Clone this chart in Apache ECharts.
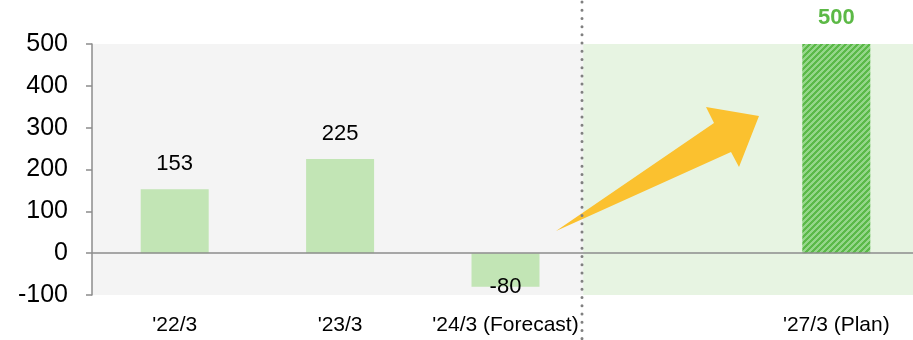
<!DOCTYPE html>
<html>
<head>
<meta charset="utf-8">
<script src="https://cdn.jsdelivr.net/npm/echarts@6/dist/echarts.min.js"></script>
<style>
  html, body { margin: 0; padding: 0; background: #ffffff; overflow: hidden; }
  #chart { width: 919px; height: 340px; }
</style>
</head>
<body>
<div id="chart"></div>
<script>
// Fiscal-year categories (the fourth slot is a spacer before the plan year)
const categories = ["'22/3", "'23/3", "'24/3 (Forecast)", "", "'27/3 (Plan)"];
const values = [153, 225, -80, null, 500];
const planIndex = 4;
const yTicks = { min: -100, max: 500, interval: 100 };

const FONT = '"Liberation Sans", Arial, sans-serif';

// Diagonal stripe tile for the plan bar
function stripeTile() {
  const c = document.createElement('canvas');
  const n = 6;
  c.width = n; c.height = n;
  const ctx = c.getContext('2d');
  for (let x = 0; x < n; x++) {
    for (let y = 0; y < n; y++) {
      ctx.fillStyle = ((x + y) % n) < 3 ? '#5bb948' : '#95d68a';
      ctx.fillRect(x, y, 1, 1);
    }
  }
  return c;
}
const stripes = stripeTile();

const barData = values.map((v, i) => {
  if (v === null) return null;
  if (i === planIndex) {
    return {
      value: v,
      itemStyle: { color: { image: stripes, repeat: 'repeat' } },
      label: { color: '#5cb946', fontWeight: 'bold', distance: 15 }
    };
  }
  if (v < 0) {
    return { value: v, label: { position: 'bottom', distance: -11 } };
  }
  return v;
});

const chart = echarts.init(document.getElementById('chart'), null, { renderer: 'canvas' });

chart.setOption({
  animation: false,
  grid: {
    left: 92, right: 0, top: 44, bottom: 45,
    show: true, backgroundColor: '#f4f4f4', borderWidth: 0
  },
  xAxis: [
    {
      type: 'category',
      data: categories,
      axisLine: { show: false },
      axisTick: { show: false },
      axisLabel: { interval: 0, color: '#000', fontSize: 21, fontFamily: FONT, margin: 20 }
    },
    { type: 'value', min: 0, max: categories.length, show: false }
  ],
  yAxis: {
    type: 'value',
    min: yTicks.min, max: yTicks.max, interval: yTicks.interval,
    axisLine: { show: true, lineStyle: { color: '#8c8c8c', width: 1.5 } },
    axisTick: { show: true, length: 6, lineStyle: { color: '#8c8c8c', width: 1.5 } },
    splitLine: { show: false },
    axisLabel: { color: '#000', fontSize: 25, fontFamily: FONT, margin: 24 }
  },
  series: [
    {
      // shaded plan period
      type: 'line',
      xAxisIndex: 1,
      data: [],
      silent: true,
      markArea: {
        silent: true,
        itemStyle: { color: '#e7f4e2' },
        data: [[{ coord: [2.97, yTicks.min] }, { coord: [categories.length, yTicks.max] }]]
      }
    },
    {
      type: 'bar',
      data: barData,
      barWidth: 68,
      z: 3,
      itemStyle: { color: '#c2e5b5' },
      label: {
        show: true, position: 'top', distance: 14,
        color: '#000', fontSize: 22, fontFamily: FONT
      },
      markLine: {
        silent: true,
        symbol: 'none',
        label: { show: false },
        lineStyle: { color: '#8c8c8c', width: 1.5, type: 'solid' },
        data: [{ yAxis: 0 }]
      }
    }
  ],
  graphic: [
    {
      // growth arrow
      type: 'polygon',
      z: 50,
      shape: {
        points: [[556, 231], [714, 123], [706, 107], [759, 116], [739, 167], [731, 152]]
      },
      style: { fill: '#fbc12f' }
    },
    {
      // divider between results and plan
      type: 'line',
      z: 60,
      shape: { x1: 582, y1: 2, x2: 582, y2: 340 },
      style: { stroke: '#808080', lineWidth: 3, lineDash: [0.01, 8.2], lineCap: 'round' }
    }
  ]
});
</script>
</body>
</html>
